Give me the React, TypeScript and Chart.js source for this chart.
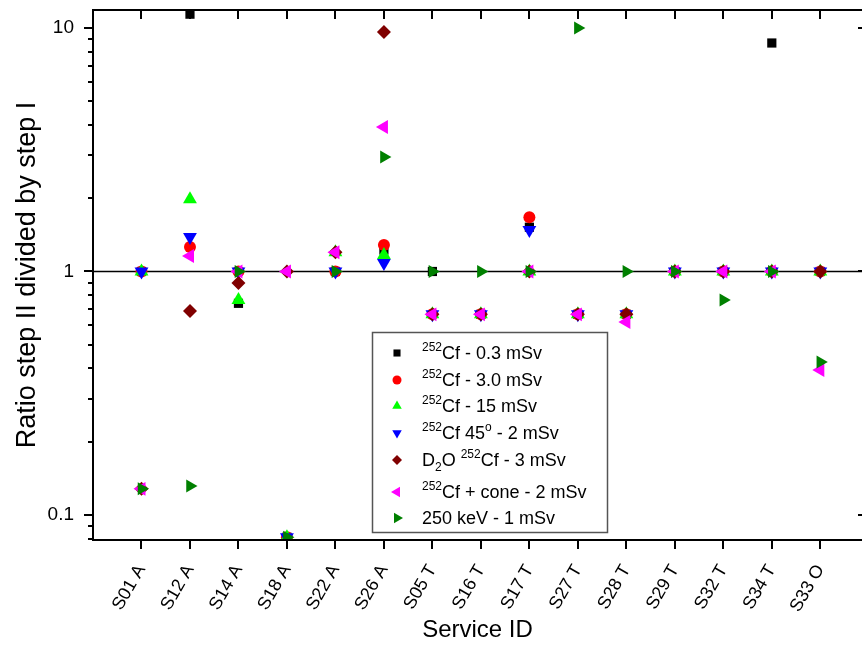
import React, { useEffect, useRef } from "react";
import { Chart, registerables } from "chart.js";
Chart.register(...registerables);

const FONT = "'Liberation Sans', Arial, sans-serif";

const categories = ["S01 A", "S12 A", "S14 A", "S18 A", "S22 A", "S26 A", "S05 T", "S16 T", "S17 T", "S27 T", "S28 T", "S29 T", "S32 T", "S34 T", "S33 O"];

const cf03 = [1, 11.4, 0.74, 0.081, 1, 1.225, 1, 0.667, 1.52, 0.667, 0.667, 1, 1, 8.68, 1];
const cf30 = [1, 1.26, 1, 0.081, 1, 1.285, 0.667, 0.667, 1.67, 0.667, 0.667, 1, 1, 1, 1];
const cf15 = [1, 1.98, 0.764, 0.081, 1.2, 1.169, 0.667, 0.667, 1, 0.667, 0.667, 1, 1, 1, 1];
const cf45 = [1, 1.386, 1, 0.081, 1, 1.083, 0.667, 0.667, 1.48, 0.667, 0.667, 1, 1, 1, 1];
const d2oCf = [0.128, 0.688, 0.897, 1, 1.2, 9.63, 0.667, 0.667, 1, 0.667, 0.667, 1, 1, 1, 1];
const cfCone = [0.128, 1.158, 1, 1, 1.2, 3.92, 0.667, 0.667, 1, 0.667, 0.62, 1, 1, 1, 0.394];
const kev250 = [0.128, 0.1316, 1, 0.081, 1, 2.95, 1, 1, 1, 10.0, 1, 1, 0.764, 1, 0.425];

const yTickValues = [0.1, 1, 10];
const yMinorTicks = [0.08, 0.09, 0.2, 0.3, 0.4, 0.5, 0.6, 0.7, 0.8, 0.9, 2, 3, 4, 5, 6, 7, 8, 9];

const seriesNames = ["252Cf - 0.3 mSv", "252Cf - 3.0 mSv", "252Cf - 15 mSv", "252Cf 45o - 2 mSv", "D2O 252Cf - 3 mSv", "252Cf + cone - 2 mSv", "250 keV - 1 mSv"];
const seriesValues = [cf03, cf30, cf15, cf45, d2oCf, cfCone, kev250];

type Seg = { t: string; k?: "sup" | "sub" };
const legendLabels: Seg[][] = [
  [{ t: "252", k: "sup" }, { t: "Cf - 0.3 mSv" }],
  [{ t: "252", k: "sup" }, { t: "Cf - 3.0 mSv" }],
  [{ t: "252", k: "sup" }, { t: "Cf - 15 mSv" }],
  [{ t: "252", k: "sup" }, { t: "Cf 45" }, { t: "o", k: "sup" }, { t: " - 2 mSv" }],
  [{ t: "D" }, { t: "2", k: "sub" }, { t: "O " }, { t: "252", k: "sup" }, { t: "Cf - 3 mSv" }],
  [{ t: "252", k: "sup" }, { t: "Cf + cone - 2 mSv" }],
  [{ t: "250 keV - 1 mSv" }],
];

const styles = [
  { color: "#000000", shape: "rect", rot: 0, r: 6.5, lr: 5 },
  { color: "#FF0000", shape: "circle", rot: 0, r: 6, lr: 4.5 },
  { color: "#00FF00", shape: "triangle", rot: 0, r: 8, lr: 5.5 },
  { color: "#0000FF", shape: "triangle", rot: 180, r: 8, lr: 5.5 },
  { color: "#800000", shape: "rectRot", rot: 0, r: 7, lr: 5 },
  { color: "#FF00FF", shape: "triangle", rot: -90, r: 8, lr: 6 },
  { color: "#008000", shape: "triangle", rot: 90, r: 7.5, lr: 6 },
];

function drawMarker(ctx: CanvasRenderingContext2D, shape: string, rot: number, r: number, x: number, y: number, color: string) {
  ctx.fillStyle = color;
  ctx.beginPath();
  if (shape === "rect") {
    const s = r * Math.SQRT1_2;
    ctx.rect(x - s, y - s, 2 * s, 2 * s);
  } else if (shape === "circle") {
    ctx.arc(x, y, r, 0, Math.PI * 2);
  } else if (shape === "rectRot") {
    ctx.moveTo(x, y - r);
    ctx.lineTo(x + r, y);
    ctx.lineTo(x, y + r);
    ctx.lineTo(x - r, y);
    ctx.closePath();
  } else {
    let a = (rot * Math.PI) / 180;
    for (let k = 0; k < 3; k++) {
      const px = x + Math.sin(a) * r;
      const py = y - Math.cos(a) * r;
      if (k === 0) ctx.moveTo(px, py);
      else ctx.lineTo(px, py);
      a += (2 * Math.PI) / 3;
    }
    ctx.closePath();
  }
  ctx.fill();
}

const framePlugin = {
  id: "frame",
  beforeDatasetsDraw(chart: any) {
    const { ctx, chartArea, scales } = chart;
    const y1 = scales.y.getPixelForValue(1);
    ctx.save();
    ctx.strokeStyle = "#000";
    ctx.lineWidth = 1.5;
    ctx.beginPath();
    ctx.moveTo(chartArea.left, y1);
    ctx.lineTo(chartArea.right, y1);
    ctx.stroke();
    ctx.restore();
  },
  afterDatasetsDraw(chart: any) {
    const { ctx, chartArea, scales } = chart;
    const { left, right, top, bottom } = chartArea;
    const xs = scales.x;
    const ys = scales.y;
    const rightAxis = right + 5;
    ctx.save();
    ctx.strokeStyle = "#000";
    ctx.lineWidth = 2;
    ctx.beginPath();
    ctx.moveTo(left, top - 1);
    ctx.lineTo(left, bottom + 1);
    ctx.moveTo(left - 1, bottom);
    ctx.lineTo(right, bottom);
    ctx.moveTo(left - 1, top);
    ctx.lineTo(right, top);
    ctx.stroke();
    ctx.lineWidth = 2;
    ctx.beginPath();
    categories.forEach((_, i) => {
      const px = Math.round(xs.getPixelForValue(i));
      ctx.moveTo(px, bottom);
      ctx.lineTo(px, bottom + 9);
      ctx.moveTo(px, top);
      ctx.lineTo(px, top + 9);
    });
    yTickValues.forEach((v) => {
      const py = Math.round(ys.getPixelForValue(v));
      ctx.moveTo(left, py);
      ctx.lineTo(left - 9, py);
      ctx.moveTo(rightAxis, py);
      ctx.lineTo(rightAxis - 9, py);
    });
    yMinorTicks.forEach((v) => {
      const py = Math.round(ys.getPixelForValue(v));
      ctx.moveTo(left, py);
      ctx.lineTo(left - 5, py);
      ctx.moveTo(rightAxis, py);
      ctx.lineTo(rightAxis - 5, py);
    });
    ctx.stroke();
    ctx.restore();
  },
  afterDraw(chart: any) {
    const ctx: CanvasRenderingContext2D = chart.ctx;
    ctx.save();
    const bx = 372, by = 332, bw = 236, bh = 201;
    ctx.fillStyle = "#fff";
    ctx.fillRect(bx, by, bw, bh);
    ctx.strokeStyle = "#555";
    ctx.lineWidth = 1.5;
    ctx.strokeRect(bx + 0.5, by + 0.5, bw - 1, bh - 1);
    const rowsY = [353, 380, 406, 433, 460, 492, 518];
    legendLabels.forEach((segs, i) => {
      const st = styles[i];
      const cy = rowsY[i];
      drawMarker(ctx, st.shape, st.rot, st.lr, 397, cy, st.color);
      let x = 422;
      const base = cy + 6;
      ctx.fillStyle = "#000";
      ctx.textBaseline = "alphabetic";
      ctx.textAlign = "left";
      segs.forEach((s) => {
        if (s.k === "sup") {
          ctx.font = `12px ${FONT}`;
          ctx.fillText(s.t, x, base - 8);
        } else if (s.k === "sub") {
          ctx.font = `12px ${FONT}`;
          ctx.fillText(s.t, x, base + 5);
        } else {
          ctx.font = `18px ${FONT}`;
          ctx.fillText(s.t, x, base);
        }
        x += ctx.measureText(s.t).width;
      });
    });
    ctx.restore();
  },
};

export default function App() {
  const ref = useRef<HTMLCanvasElement>(null);
  useEffect(() => {
    const datasets = seriesValues.map((vals, i) => ({
      label: seriesNames[i],
      data: vals.map((v, j) => ({ x: j, y: v })),
      showLine: false,
      order: 10 - i,
      pointStyle: styles[i].shape,
      pointRotation: styles[i].rot,
      pointRadius: styles[i].r,
      pointHoverRadius: styles[i].r,
      pointBackgroundColor: styles[i].color,
      pointBorderColor: styles[i].color,
      pointBorderWidth: 0,
      backgroundColor: styles[i].color,
      borderColor: styles[i].color,
    }));
    const chart = new Chart(ref.current!, {
      type: "scatter",
      data: { datasets } as any,
      plugins: [framePlugin],
      options: {
        responsive: false,
        animation: false,
        events: [],
        layout: { autoPadding: false, padding: { top: 10, right: 0, left: 0, bottom: 0 } },
        plugins: { legend: { display: false }, tooltip: { enabled: false } },
        scales: {
          x: {
            type: "linear",
            min: -1,
            max: 14.86,
            bounds: "data",
            afterBuildTicks: (s: any) => {
              s.ticks = categories.map((_, i) => ({ value: i }));
            },
            afterFit: (s: any) => {
              s.height = 105;
              s.paddingLeft = 0;
              s.paddingRight = 0;
            },
            grid: { display: false, tickLength: 9 },
            border: { display: false },
            ticks: {
              autoSkip: false,
              minRotation: 60,
              maxRotation: 60,
              padding: 12,
              color: "#000",
              font: { family: FONT, size: 18 },
              callback: (v: any) => categories[v] ?? "",
            },
            title: {
              display: true,
              text: "Service ID",
              color: "#000",
              font: { family: FONT, size: 24 },
              padding: { top: 0, bottom: 0 },
            },
          },
          y: {
            type: "logarithmic",
            min: 0.0789,
            max: 11.86,
            bounds: "data",
            afterBuildTicks: (s: any) => {
              s.ticks = yTickValues.map((v) => ({ value: v }));
            },
            afterFit: (s: any) => {
              s.width = 93;
              s.paddingTop = 0;
              s.paddingBottom = 0;
            },
            grid: { display: false, tickLength: 9 },
            border: { display: false },
            ticks: {
              color: "#000",
              padding: 10,
              font: { family: FONT, size: 19 },
              callback: (v: any) => String(v),
            },
            title: {
              display: true,
              text: "Ratio step II divided by step I",
              color: "#000",
              font: { family: FONT, size: 27 },
              padding: { top: 11, bottom: 0 },
            },
          },
        },
      } as any,
    });
    return () => chart.destroy();
  }, []);
  return (
    <div style={{ position: "fixed", left: 0, top: 0, width: 862, height: 645, background: "#fff" }}>
      <canvas ref={ref} width={862} height={645} style={{ display: "block", width: 862, height: 645 }} />
    </div>
  );
}
